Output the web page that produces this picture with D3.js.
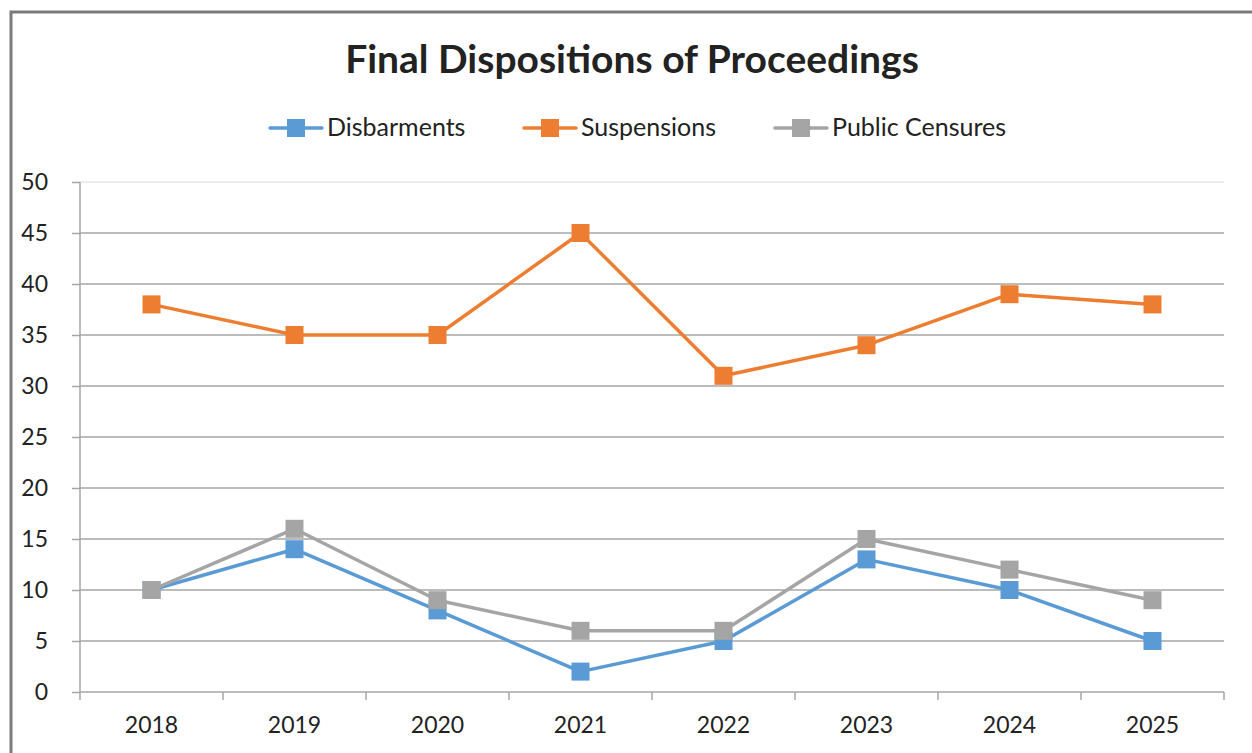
<!DOCTYPE html>
<html>
<head>
<meta charset="utf-8">
<script src="https://cdn.jsdelivr.net/npm/d3@7"></script>
<style>
  body { margin: 0; background: #fff; }
  text { font-family: Lato, "Open Sans", sans-serif; fill: #222; }
</style>
</head>
<body>
<div id="chart"></div>
<script>
// chart data
var years = ["2018", "2019", "2020", "2021", "2022", "2023", "2024", "2025"];
var disbarments = [10, 14, 8, 2, 5, 13, 10, 5];
var suspensions = [38, 35, 35, 45, 31, 34, 39, 38];
var censures = [10, 16, 9, 6, 6, 15, 12, 9];
var yTicks = [0, 5, 10, 15, 20, 25, 30, 35, 40, 45, 50];
var seriesNames = ["Disbarments", "Suspensions", "Public Censures"];
var seriesColors = ["#5b9bd5", "#ed7d31", "#a5a5a5"];

var w = 1252, h = 753;
var svg = d3.select("#chart").append("svg").attr("width", w).attr("height", h);

// outer frame (only left and top visible)
svg.append("rect")
    .attr("x", 11).attr("y", 12)
    .attr("width", 1300).attr("height", 800)
    .attr("fill", "none").attr("stroke", "#7a7a7a").attr("stroke-width", 3);

var plotL = 80, plotR = 1224, plotT = 182, plotB = 692;

var x = d3.scaleBand().domain(years).range([plotL, plotR]);
var y = d3.scaleLinear().domain([0, 50]).range([plotB, plotT]);

// gridlines
svg.append("g").selectAll("line")
    .data(yTicks.filter(function (d) { return d > 0 }))
    .enter().append("line")
    .attr("x1", plotL).attr("x2", plotR)
    .attr("y1", function (d) { return y(d) }).attr("y2", function (d) { return y(d) })
    .attr("stroke", function (d) { return d === 50 ? "#e6e6e6" : "#a6a6a6" })
    .attr("stroke-width", 1.5);

// y axis
var yAxis = svg.append("g")
    .attr("transform", "translate(" + plotL + ",0)")
    .call(d3.axisLeft(y).tickValues(yTicks).tickSize(8).tickPadding(24));
yAxis.selectAll("line, path").attr("stroke", "#a6a6a6").attr("stroke-width", 1.5);
yAxis.select("path").attr("d", "M0," + plotT + "V" + plotB);
yAxis.selectAll("text")
    .attr("font-size", 23)
    .style("font-family", "Lato, 'Open Sans', sans-serif")
    .attr("fill", "#222");

// x axis with ticks at category boundaries
var xAxis = svg.append("g").attr("transform", "translate(0," + plotB + ")");
xAxis.append("line").attr("x1", plotL).attr("x2", plotR).attr("stroke", "#a6a6a6").attr("stroke-width", 1.5);
var bounds = years.map(function (d) { return x(d) }).concat([plotR]);
xAxis.selectAll("line.tick").data(bounds).enter().append("line")
    .attr("class", "tick")
    .attr("x1", function (d) { return d }).attr("x2", function (d) { return d })
    .attr("y1", 0).attr("y2", 8)
    .attr("stroke", "#a6a6a6").attr("stroke-width", 1.5);
xAxis.selectAll("text").data(years).enter().append("text")
    .attr("x", function (d) { return x(d) + x.bandwidth() / 2 })
    .attr("y", 41)
    .attr("text-anchor", "middle")
    .attr("font-size", 23)
    .text(function (d) { return d });

// series
var allSeries = [disbarments, suspensions, censures];
var line = d3.line()
    .x(function (d, i) { return x(years[i]) + x.bandwidth() / 2 })
    .y(function (d) { return y(d) });

var ms = 18;
[0, 2, 1].forEach(function (k) {
    var g = svg.append("g");
    g.append("path")
        .datum(allSeries[k])
        .attr("d", line)
        .attr("fill", "none")
        .attr("stroke", seriesColors[k])
        .attr("stroke-width", 3.5)
        .attr("stroke-linejoin", "round");
    g.selectAll("rect").data(allSeries[k]).enter().append("rect")
        .attr("x", function (d, i) { return x(years[i]) + x.bandwidth() / 2 - ms / 2 })
        .attr("y", function (d) { return y(d) - ms / 2 })
        .attr("width", ms).attr("height", ms)
        .attr("fill", seriesColors[k]);
});

// title
svg.append("text")
    .attr("x", 632).attr("y", 73)
    .attr("text-anchor", "middle")
    .attr("font-size", 39)
    .attr("font-weight", "bold")
    .text("Final Dispositions of Proceedings");

// legend
var legendX = [270, 524, 775];
var legend = svg.append("g").selectAll("g").data(seriesNames).enter().append("g")
    .attr("transform", function (d, i) { return "translate(" + legendX[i] + ",128)" });
legend.append("line")
    .attr("x1", 0).attr("x2", 52)
    .attr("stroke", function (d, i) { return seriesColors[i] })
    .attr("stroke-width", 3.5)
    .attr("stroke-linecap", "round");
legend.append("rect")
    .attr("x", 17).attr("y", -9).attr("width", 18).attr("height", 18)
    .attr("fill", function (d, i) { return seriesColors[i] });
legend.append("text")
    .attr("x", 57).attr("y", 8)
    .attr("font-size", 25)
    .text(function (d) { return d });
</script>
</body>
</html>
